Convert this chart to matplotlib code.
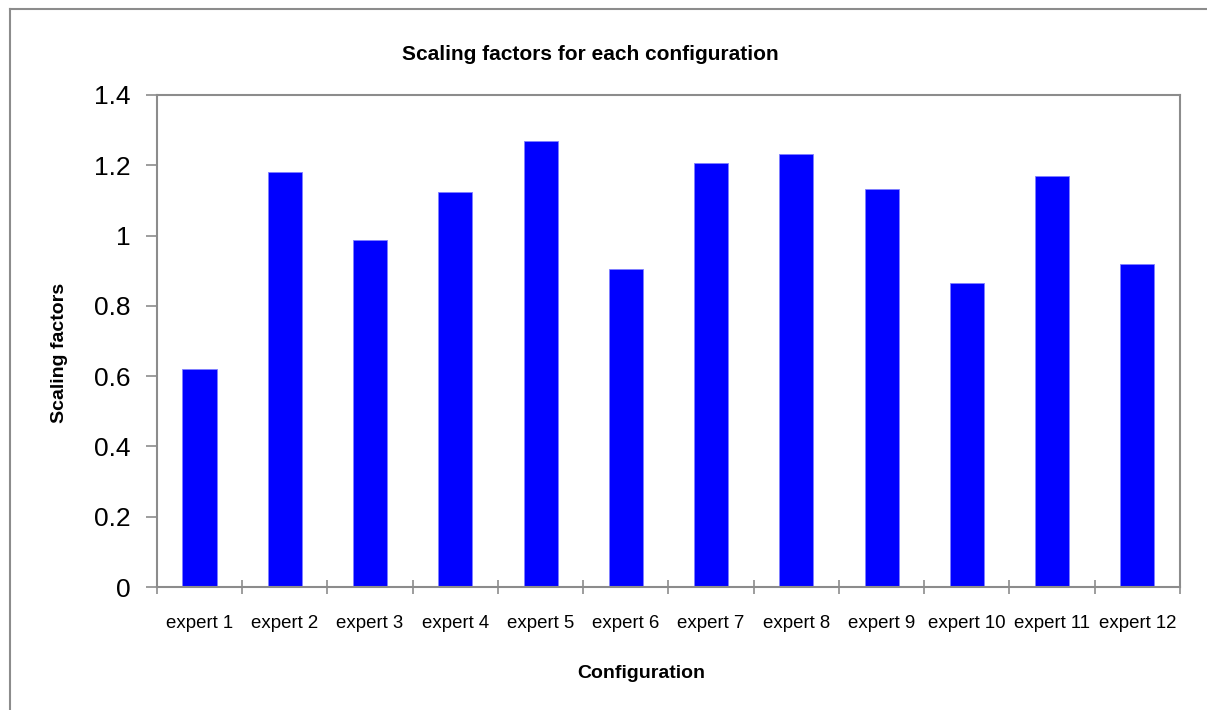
import numpy as np
import matplotlib
matplotlib.use('Agg')
import matplotlib.pyplot as plt
from matplotlib.lines import Line2D
from matplotlib.ticker import FixedLocator

plt.rcParams['font.family'] = ['Liberation Sans', 'DejaVu Sans']

experts = ['expert 1', 'expert 2', 'expert 3', 'expert 4', 'expert 5', 'expert 6',
           'expert 7', 'expert 8', 'expert 9', 'expert 10', 'expert 11', 'expert 12']
scaling = [0.621, 1.181, 0.987, 1.125, 1.270, 0.904,
           1.206, 1.233, 1.133, 0.864, 1.169, 0.918]
yticks = [0, 0.2, 0.4, 0.6, 0.8, 1, 1.2, 1.4]
ytick_labels = ['0', '0.2', '0.4', '0.6', '0.8', '1', '1.2', '1.4']

GRAY = '#8c8c8c'
W, H = 1207, 710

fig = plt.figure(figsize=(W / 100, H / 100), dpi=100)
ax = fig.add_axes([0.130, 0.1732, 0.8476, 0.6930])

x = np.arange(len(experts))
ax.bar(x, scaling, width=0.4, color='#0000ff', edgecolor='#8080ff', linewidth=0.6)

ax.set_xlim(-0.5, len(experts) - 0.5)
ax.set_ylim(0, 1.4)
ax.set_yticks(yticks)
ax.set_yticklabels(ytick_labels, fontsize=19)
ax.set_xticks(x)
ax.set_xticklabels(experts, fontsize=13.4)
ax.xaxis.set_minor_locator(FixedLocator(np.arange(-0.5, len(experts), 1.0)))

ax.tick_params(axis='y', direction='out', length=8, width=1.2, color=GRAY, pad=11)
ax.tick_params(axis='x', which='major', length=0, pad=20)
ax.tick_params(axis='x', which='minor', direction='inout', length=10, width=1.2, color=GRAY)

for sp in ax.spines.values():
    sp.set_color(GRAY)
    sp.set_linewidth(1.5)

# titles placed like the original chart (not centred on the plot area)
fig.text(590 / W, 1 - 54 / H, 'Scaling factors for each configuration',
         fontsize=15, fontweight='bold', ha='center', va='center')
fig.text(641 / W, 1 - 674 / H, 'Configuration',
         fontsize=14, fontweight='bold', ha='center', va='center')
fig.text(60 / W, 1 - 353 / H, 'Scaling factors', rotation=90,
         fontsize=14, fontweight='bold', ha='center', va='center')

# outer chart border (left and top edges visible)
fig.add_artist(Line2D([10 / W, 10 / W], [0, 1 - 9 / H], transform=fig.transFigure,
                      color=GRAY, linewidth=1.5))
fig.add_artist(Line2D([10 / W, 1], [1 - 9 / H, 1 - 9 / H], transform=fig.transFigure,
                      color=GRAY, linewidth=1.5))

fig.savefig('out.png', dpi=100, facecolor='white')
